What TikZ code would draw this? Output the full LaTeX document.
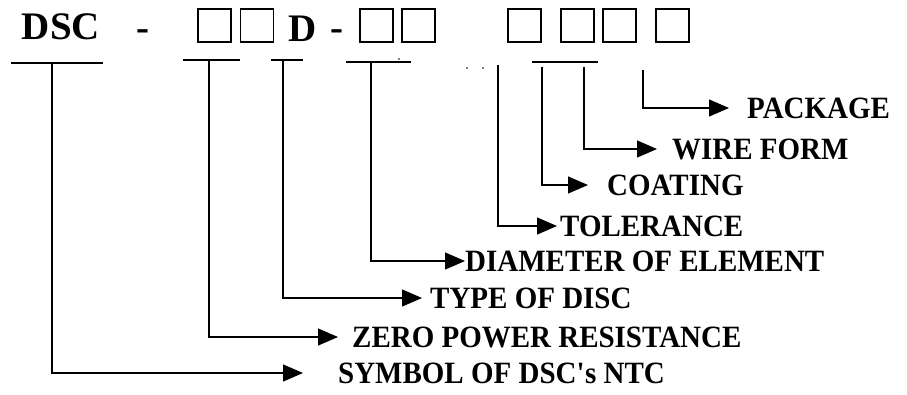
\documentclass[tikz,border=0pt]{standalone}
\usepackage{fontspec}
\setmainfont{Liberation Serif}
\newfontfamily\fieldfont{Liberation Serif}[FakeStretch=0.935]
\usetikzlibrary{arrows.meta}
\tikzset{
  slot/.style={draw, line width=1.5pt, minimum size=33pt, inner sep=0pt},
  code/.style={font=\fontsize{39}{39}\selectfont\bfseries, inner sep=0pt, anchor=base},
  field/.style={font=\fieldfont\fontsize{31}{31}\selectfont\bfseries, anchor=west, inner sep=0pt},
  feed/.style={line width=1.2pt, -{Triangle[length=20pt,width=17pt]}},
  bar/.style={line width=1.3pt}
}

\begin{document}
\begin{tikzpicture}[x=1pt,y=-1pt]
\useasboundingbox (0,0) rectangle (907,394);
% code string
\node[code] (dsc) at (61,39) {DSC};
\node[code] (dashA) at (143,40) {-};
\node[slot] (s1) at (214.5,25.5) {};
\node[slot] (s2) at (257,25.5) {};
\node[code] (dd) at (302.5,41) {D};
\node[code] (dashB) at (337,40) {-};
\node[slot] (s3) at (376.5,25.5) {};
\node[slot] (s4) at (418.5,25.5) {};
\node[slot] (s5) at (524.5,25.5) {};
\node[slot] (s6) at (577.5,25.5) {};
\node[slot] (s7) at (619.5,25.5) {};
\node[slot] (s8) at (672.5,25.5) {};
% underlines
\draw[bar] (11,63) -- (103,63);
\draw[bar] (183,60) -- (240,60);
\draw[bar] (271,60) -- (303,60);
\draw[bar] (346,62) -- (411,62);
\draw[bar] (532,62) -- (598,62);
\fill (399,59) circle (0.9);
\fill (467,68) circle (0.9);
\fill (483,68) circle (0.9);
% feet of the leads
\coordinate (t1) at (52,63);
\coordinate (t2) at (209,60);
\coordinate (t3) at (283,60);
\coordinate (t4) at (371,62);
\coordinate (t5) at (498,65);
\coordinate (t6) at (542,67);
\coordinate (t7) at (584,67);
\coordinate (t8) at (643,70);
% fields
\node[field] (pkg) at (747,108) {PACKAGE};
\node[field] (wire) at (672,149) {WIRE FORM};
\node[field] (coat) at (607,185) {COATING};
\node[field] (tol) at (560,226) {TOLERANCE};
\node[field] (dia) at (465,261) {DIAMETER OF ELEMENT};
\node[field] (type) at (430,298) {TYPE OF DISC};
\node[field] (zero) at (352,337) {ZERO POWER RESISTANCE};
\node[field] (sym) at (338,373) {SYMBOL OF DSC\textquotesingle s NTC};
% leads
\draw[feed, shorten >=18pt] (t8) |- (pkg.west);
\draw[feed, shorten >=15pt] (t7) |- (wire.west);
\draw[feed, shorten >=19pt] (t6) |- (coat.west);
\draw[feed, shorten >=3pt] (t5) |- (tol.west);
\draw[feed, shorten >=0pt] (t4) |- (dia.west);
\draw[feed, shorten >=8pt] (t3) |- (type.west);
\draw[feed, shorten >=14pt] (t2) |- (zero.west);
\draw[feed, shorten >=35pt] (t1) |- (sym.west);
\end{tikzpicture}
\end{document}
